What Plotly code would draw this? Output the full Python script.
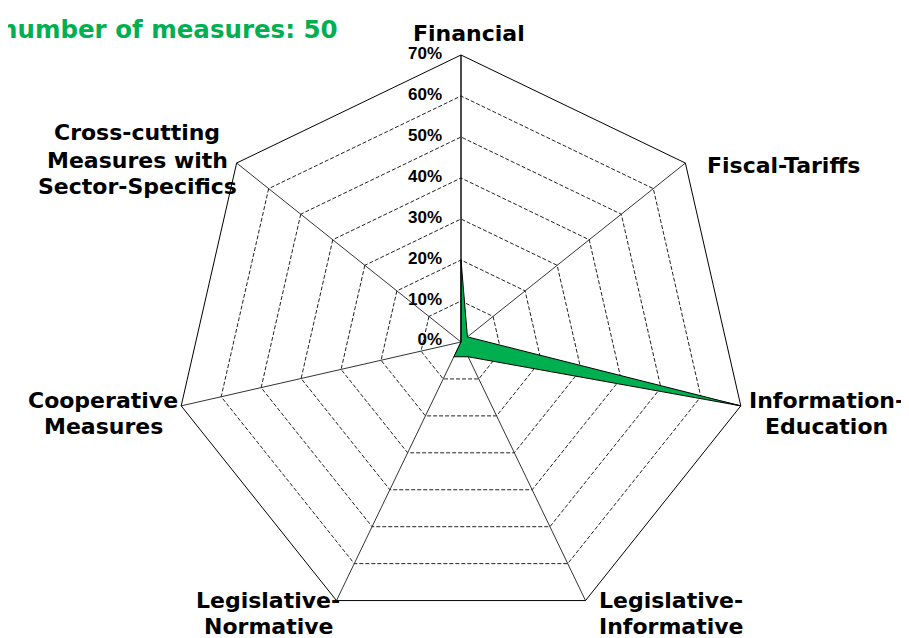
import plotly.graph_objects as go

categories = ["Financial", "Fiscal-Tariffs", "Information-Education", "Legislative-Informative",
              "Legislative-Normative", "Cooperative Measures", "Cross-cutting Measures with Sector-Specifics"]
label_lines = [["Financial"], ["Fiscal-Tariffs"], ["Information-", "Education"], ["Legislative-", "Informative"],
               ["Legislative-", "Normative"], ["Cooperative", "Measures"],
               ["Cross-cutting", "Measures with", "Sector-Specifics"]]
values = [20, 2, 70, 4, 4, 0, 0]
radial_ticks = [0, 10, 20, 30, 40, 50, 60, 70]
radial_tick_labels = ["0%", "10%", "20%", "30%", "40%", "50%", "60%", "70%"]
title_text = "number of measures: 50"

W, H = 909, 638
cx, cy, R = 453, 334, 287

fig = go.Figure()
fig.add_trace(go.Scatterpolar(
    r=values + [values[0]], theta=categories + [categories[0]],
    mode="lines", fill="toself", fillcolor="#00B050",
    line=dict(color="black", width=1), showlegend=False, hoverinfo="skip",
))
# radial tick labels along the Financial axis (centre label nudged off r=0 so it is not hidden)
fig.add_trace(go.Scatterpolar(
    r=[max(t, 0.3) for t in radial_ticks], theta=[categories[0]] * len(radial_ticks),
    mode="text", text=[t + "\u00a0\u00a0\u00a0\u00a0" for t in radial_tick_labels],
    textposition="middle left", showlegend=False, hoverinfo="skip", cliponaxis=False,
    textfont=dict(family="Liberation Sans", size=17, color="black", weight="bold"),
))

fig.update_layout(
    width=W, height=H, margin=dict(l=0, r=0, t=0, b=0),
    paper_bgcolor="white", plot_bgcolor="white",
    polar=dict(
        domain=dict(x=[(cx - R) / W, (cx + R) / W], y=[(H - cy - R) / H, (H - cy + R) / H]),
        bgcolor="white", gridshape="linear",
        radialaxis=dict(range=[0, 70], tickvals=radial_ticks, angle=90,
                        showticklabels=False, layer="above traces",
                        showline=True, linecolor="black", linewidth=1,
                        gridcolor="#222", griddash="4px,2px", gridwidth=1, ticks=""),
        angularaxis=dict(rotation=90, direction="clockwise", showline=True, linecolor="black",
                         layer="above traces",
                         linewidth=1, gridcolor="#333", gridwidth=1, showticklabels=False, ticks=""),
    ),
)

# category labels
label_pos = [(461, 25, 0), (775, 157, 0), (818, 405, 26), (663, 605, 26), (260, 605, 26),
             (95, 405, 26), (129, 152, 27)]
for lines, (x, y, sp) in zip(label_lines, label_pos):
    n = len(lines)
    for i, ln in enumerate(lines):
        yy = y + (i - (n - 1) / 2) * sp
        fig.add_annotation(x=x / W, y=1 - yy / H, xref="paper", yref="paper", text="<b>" + ln + "</b>",
                           showarrow=False, xanchor="center", yanchor="middle",
                           font=dict(family="DejaVu Sans", size=22, color="black"))

fig.add_annotation(x=332 / W, y=1 - 22 / H, xref="paper", yref="paper", text="<b>" + title_text + "</b>",
                   showarrow=False, xanchor="right", yanchor="middle",
                   font=dict(family="DejaVu Sans", size=24.5, color="#00B050"))

fig.write_html("out.html")
